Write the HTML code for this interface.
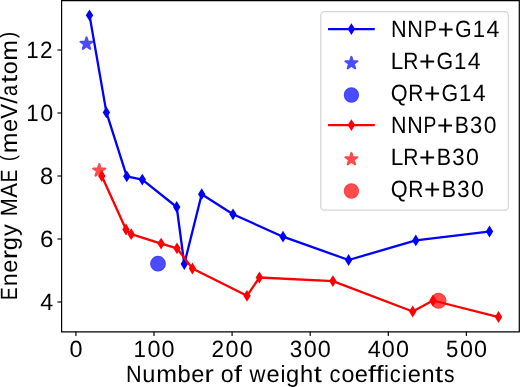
<!DOCTYPE html>
<html><head><meta charset="utf-8"><title>Energy MAE vs number of weight coefficients</title><style>
html,body{margin:0;padding:0;background:#fff;width:520px;height:387px;overflow:hidden;}
svg{display:block;will-change:transform;}
text{font-family:"Liberation Sans",sans-serif;font-size:23.5px;fill:#000;text-rendering:geometricPrecision;}
</style></head><body>
<svg width="520" height="387" viewBox="0 0 520 387">
<rect width="520" height="387" fill="#fff"/>
<g opacity="0.7"><polygon points="86.50,37.40 87.91,41.75 92.49,41.75 88.79,44.44 90.20,48.80 86.50,46.11 82.80,48.80 84.21,44.44 80.51,41.75 85.09,41.75" fill="#0000ff" stroke="#0000ff" stroke-width="2.08" stroke-linejoin="round"/></g>
<g opacity="0.7"><circle cx="158" cy="263.7" r="6.8" fill="#0000ff" stroke="#0000ff" stroke-width="2.08"/></g><circle cx="158" cy="263.7" r="7.20" fill="none" stroke="#0000ff" stroke-opacity="0.12" stroke-width="1.2"/>
<g opacity="0.7"><polygon points="99.25,164.10 100.69,168.52 105.34,168.52 101.57,171.26 103.01,175.68 99.25,172.94 95.49,175.68 96.93,171.26 93.16,168.52 97.81,168.52" fill="#ff0000" stroke="#ff0000" stroke-width="2.08" stroke-linejoin="round"/></g>
<g opacity="0.7"><circle cx="438.5" cy="300.8" r="6.9" fill="#ff0000" stroke="#ff0000" stroke-width="2.08"/></g><circle cx="438.5" cy="300.8" r="7.30" fill="none" stroke="#ff0000" stroke-opacity="0.12" stroke-width="1.2"/>
<polyline points="89.50,15.30 106.40,112.40 126.80,176.30 142.30,179.60 176.70,207.00 184.30,264.00 201.70,194.20 233.00,214.30 283.00,236.70 348.60,260.00 415.80,240.40 489.50,231.50" fill="none" stroke="#0000ff" stroke-width="2.3" stroke-linejoin="round" stroke-linecap="square"/>
<path d="M89.50 9.40L93.20 15.30L89.50 21.20L85.80 15.30Z" fill="#0000ff"/>
<path d="M106.40 106.50L110.10 112.40L106.40 118.30L102.70 112.40Z" fill="#0000ff"/>
<path d="M126.80 170.40L130.50 176.30L126.80 182.20L123.10 176.30Z" fill="#0000ff"/>
<path d="M142.30 173.70L146.00 179.60L142.30 185.50L138.60 179.60Z" fill="#0000ff"/>
<path d="M176.70 201.10L180.40 207.00L176.70 212.90L173.00 207.00Z" fill="#0000ff"/>
<path d="M184.30 258.10L188.00 264.00L184.30 269.90L180.60 264.00Z" fill="#0000ff"/>
<path d="M201.70 188.30L205.40 194.20L201.70 200.10L198.00 194.20Z" fill="#0000ff"/>
<path d="M233.00 208.40L236.70 214.30L233.00 220.20L229.30 214.30Z" fill="#0000ff"/>
<path d="M283.00 230.80L286.70 236.70L283.00 242.60L279.30 236.70Z" fill="#0000ff"/>
<path d="M348.60 254.10L352.30 260.00L348.60 265.90L344.90 260.00Z" fill="#0000ff"/>
<path d="M415.80 234.50L419.50 240.40L415.80 246.30L412.10 240.40Z" fill="#0000ff"/>
<path d="M489.50 225.60L493.20 231.50L489.50 237.40L485.80 231.50Z" fill="#0000ff"/>
<polyline points="101.80,176.00 126.00,229.50 131.20,234.20 161.10,243.60 177.00,248.30 192.40,268.50 247.00,295.80 259.40,277.50 332.90,281.10 412.70,311.50 433.00,300.50 498.50,317.00" fill="none" stroke="#ff0000" stroke-width="2.3" stroke-linejoin="round" stroke-linecap="square"/>
<path d="M101.80 170.10L105.50 176.00L101.80 181.90L98.10 176.00Z" fill="#ff0000"/>
<path d="M126.00 223.60L129.70 229.50L126.00 235.40L122.30 229.50Z" fill="#ff0000"/>
<path d="M131.20 228.30L134.90 234.20L131.20 240.10L127.50 234.20Z" fill="#ff0000"/>
<path d="M161.10 237.70L164.80 243.60L161.10 249.50L157.40 243.60Z" fill="#ff0000"/>
<path d="M177.00 242.40L180.70 248.30L177.00 254.20L173.30 248.30Z" fill="#ff0000"/>
<path d="M192.40 262.60L196.10 268.50L192.40 274.40L188.70 268.50Z" fill="#ff0000"/>
<path d="M247.00 289.90L250.70 295.80L247.00 301.70L243.30 295.80Z" fill="#ff0000"/>
<path d="M259.40 271.60L263.10 277.50L259.40 283.40L255.70 277.50Z" fill="#ff0000"/>
<path d="M332.90 275.20L336.60 281.10L332.90 287.00L329.20 281.10Z" fill="#ff0000"/>
<path d="M412.70 305.60L416.40 311.50L412.70 317.40L409.00 311.50Z" fill="#ff0000"/>
<path d="M433.00 294.60L436.70 300.50L433.00 306.40L429.30 300.50Z" fill="#ff0000"/>
<path d="M498.50 311.10L502.20 317.00L498.50 322.90L494.80 317.00Z" fill="#ff0000"/>
<path d="M61.6 0.55H519.3V331.8H61.6Z" fill="none" stroke="#000" stroke-width="1.2"/>
<line x1="75.90" y1="331.8" x2="75.90" y2="336.00" stroke="#000" stroke-width="1.15"/>
<line x1="154.00" y1="331.8" x2="154.00" y2="336.00" stroke="#000" stroke-width="1.15"/>
<line x1="232.10" y1="331.8" x2="232.10" y2="336.00" stroke="#000" stroke-width="1.15"/>
<line x1="310.20" y1="331.8" x2="310.20" y2="336.00" stroke="#000" stroke-width="1.15"/>
<line x1="388.30" y1="331.8" x2="388.30" y2="336.00" stroke="#000" stroke-width="1.15"/>
<line x1="466.40" y1="331.8" x2="466.40" y2="336.00" stroke="#000" stroke-width="1.15"/>
<line x1="61.6" y1="302.00" x2="57.40" y2="302.00" stroke="#000" stroke-width="1.15"/>
<line x1="61.6" y1="239.00" x2="57.40" y2="239.00" stroke="#000" stroke-width="1.15"/>
<line x1="61.6" y1="176.00" x2="57.40" y2="176.00" stroke="#000" stroke-width="1.15"/>
<line x1="61.6" y1="113.00" x2="57.40" y2="113.00" stroke="#000" stroke-width="1.15"/>
<line x1="61.6" y1="50.00" x2="57.40" y2="50.00" stroke="#000" stroke-width="1.15"/>
<text><tspan x="69.39" y="356.50" textLength="13.01" lengthAdjust="spacingAndGlyphs">0</tspan></text>
<text><tspan x="133.55" y="356.50" textLength="12.43" lengthAdjust="spacingAndGlyphs">1</tspan><tspan x="147.49" y="356.50" textLength="13.01" lengthAdjust="spacingAndGlyphs">0</tspan><tspan x="161.61" y="356.50" textLength="13.01" lengthAdjust="spacingAndGlyphs">0</tspan></text>
<text><tspan x="211.41" y="356.50" textLength="12.55" lengthAdjust="spacingAndGlyphs">2</tspan><tspan x="225.59" y="356.50" textLength="13.01" lengthAdjust="spacingAndGlyphs">0</tspan><tspan x="239.71" y="356.50" textLength="13.01" lengthAdjust="spacingAndGlyphs">0</tspan></text>
<text><tspan x="289.85" y="356.50" textLength="12.50" lengthAdjust="spacingAndGlyphs">3</tspan><tspan x="303.69" y="356.50" textLength="13.01" lengthAdjust="spacingAndGlyphs">0</tspan><tspan x="317.81" y="356.50" textLength="13.01" lengthAdjust="spacingAndGlyphs">0</tspan></text>
<text><tspan x="367.66" y="356.50" textLength="13.02" lengthAdjust="spacingAndGlyphs">4</tspan><tspan x="381.79" y="356.50" textLength="13.01" lengthAdjust="spacingAndGlyphs">0</tspan><tspan x="395.91" y="356.50" textLength="13.01" lengthAdjust="spacingAndGlyphs">0</tspan></text>
<text><tspan x="446.04" y="356.50" textLength="12.28" lengthAdjust="spacingAndGlyphs">5</tspan><tspan x="459.89" y="356.50" textLength="13.01" lengthAdjust="spacingAndGlyphs">0</tspan><tspan x="474.01" y="356.50" textLength="13.01" lengthAdjust="spacingAndGlyphs">0</tspan></text>
<text><tspan x="40.17" y="310.10" textLength="13.02" lengthAdjust="spacingAndGlyphs">4</tspan></text>
<text><tspan x="39.95" y="247.10" textLength="13.47" lengthAdjust="spacingAndGlyphs">6</tspan></text>
<text><tspan x="40.10" y="184.10" textLength="13.16" lengthAdjust="spacingAndGlyphs">8</tspan></text>
<text><tspan x="26.24" y="121.10" textLength="12.43" lengthAdjust="spacingAndGlyphs">1</tspan><tspan x="40.17" y="121.10" textLength="13.01" lengthAdjust="spacingAndGlyphs">0</tspan></text>
<text><tspan x="26.24" y="58.10" textLength="12.43" lengthAdjust="spacingAndGlyphs">1</tspan><tspan x="40.12" y="58.10" textLength="12.55" lengthAdjust="spacingAndGlyphs">2</tspan></text>
<text><tspan x="126.03" y="382.20" textLength="15.60" lengthAdjust="spacingAndGlyphs">N</tspan><tspan x="142.34" y="382.20" textLength="13.11" lengthAdjust="spacingAndGlyphs">u</tspan><tspan x="156.20" y="382.20" textLength="20.75" lengthAdjust="spacingAndGlyphs">m</tspan><tspan x="177.63" y="382.20" textLength="13.23" lengthAdjust="spacingAndGlyphs">b</tspan><tspan x="191.26" y="382.20" textLength="13.14" lengthAdjust="spacingAndGlyphs">e</tspan><tspan x="204.63" y="382.20" textLength="9.33" lengthAdjust="spacingAndGlyphs">r</tspan> <tspan x="220.68" y="382.20" textLength="12.93" lengthAdjust="spacingAndGlyphs">o</tspan><tspan x="233.92" y="382.20" textLength="7.98" lengthAdjust="spacingAndGlyphs">f</tspan> <tspan x="249.43" y="382.20" textLength="15.96" lengthAdjust="spacingAndGlyphs">w</tspan><tspan x="266.57" y="382.20" textLength="13.14" lengthAdjust="spacingAndGlyphs">e</tspan><tspan x="280.38" y="382.20" textLength="4.97" lengthAdjust="spacingAndGlyphs">i</tspan><tspan x="286.10" y="382.20" textLength="13.22" lengthAdjust="spacingAndGlyphs">g</tspan><tspan x="300.11" y="382.20" textLength="13.20" lengthAdjust="spacingAndGlyphs">h</tspan><tspan x="313.78" y="382.20" textLength="8.12" lengthAdjust="spacingAndGlyphs">t</tspan> <tspan x="329.43" y="382.20" textLength="10.97" lengthAdjust="spacingAndGlyphs">c</tspan><tspan x="341.41" y="382.20" textLength="12.93" lengthAdjust="spacingAndGlyphs">o</tspan><tspan x="354.76" y="382.20" textLength="13.14" lengthAdjust="spacingAndGlyphs">e</tspan><tspan x="368.11" y="382.20" textLength="7.98" lengthAdjust="spacingAndGlyphs">f</tspan><tspan x="375.81" y="382.20" textLength="7.98" lengthAdjust="spacingAndGlyphs">f</tspan><tspan x="383.98" y="382.20" textLength="4.97" lengthAdjust="spacingAndGlyphs">i</tspan><tspan x="389.76" y="382.20" textLength="10.97" lengthAdjust="spacingAndGlyphs">c</tspan><tspan x="402.08" y="382.20" textLength="4.97" lengthAdjust="spacingAndGlyphs">i</tspan><tspan x="407.79" y="382.20" textLength="13.14" lengthAdjust="spacingAndGlyphs">e</tspan><tspan x="421.46" y="382.20" textLength="13.11" lengthAdjust="spacingAndGlyphs">n</tspan><tspan x="435.05" y="382.20" textLength="8.12" lengthAdjust="spacingAndGlyphs">t</tspan><tspan x="444.08" y="382.20" textLength="10.48" lengthAdjust="spacingAndGlyphs">s</tspan></text>
<g transform="translate(16.9,387) rotate(-90)"><text><tspan x="87.05" y="0.00" textLength="12.64" lengthAdjust="spacingAndGlyphs">E</tspan><tspan x="100.69" y="0.00" textLength="13.11" lengthAdjust="spacingAndGlyphs">n</tspan><tspan x="114.34" y="0.00" textLength="13.14" lengthAdjust="spacingAndGlyphs">e</tspan><tspan x="127.71" y="0.00" textLength="9.33" lengthAdjust="spacingAndGlyphs">r</tspan><tspan x="136.79" y="0.00" textLength="13.22" lengthAdjust="spacingAndGlyphs">g</tspan><tspan x="151.06" y="0.00" textLength="11.74" lengthAdjust="spacingAndGlyphs">y</tspan> <tspan x="170.72" y="0.00" textLength="18.17" lengthAdjust="spacingAndGlyphs">M</tspan><tspan x="189.36" y="0.00" textLength="14.70" lengthAdjust="spacingAndGlyphs">A</tspan><tspan x="204.78" y="0.00" textLength="12.64" lengthAdjust="spacingAndGlyphs">E</tspan> <tspan x="225.69" y="-1.47" font-size="21.22" textLength="6.16" lengthAdjust="spacingAndGlyphs">(</tspan><tspan x="233.83" y="0.00" textLength="20.76" lengthAdjust="spacingAndGlyphs">m</tspan><tspan x="255.00" y="0.00" textLength="13.14" lengthAdjust="spacingAndGlyphs">e</tspan><tspan x="268.33" y="0.00" textLength="14.80" lengthAdjust="spacingAndGlyphs">V</tspan><tspan x="283.22" y="0.00" textLength="7.37" lengthAdjust="spacingAndGlyphs">/</tspan><tspan x="291.06" y="0.00" textLength="10.94" lengthAdjust="spacingAndGlyphs">a</tspan><tspan x="304.13" y="0.00" textLength="8.12" lengthAdjust="spacingAndGlyphs">t</tspan><tspan x="312.79" y="0.00" textLength="12.93" lengthAdjust="spacingAndGlyphs">o</tspan><tspan x="326.27" y="0.00" textLength="20.76" lengthAdjust="spacingAndGlyphs">m</tspan><tspan x="348.89" y="-1.47" font-size="21.22" textLength="6.16" lengthAdjust="spacingAndGlyphs">)</tspan></text></g>
<rect x="320.8" y="11.6" width="187.60" height="198.60" rx="3.6" ry="3.6" fill="#fff" fill-opacity="0.8" stroke="#d6d6d6" stroke-width="1.3"/>
<line x1="329.20" y1="29.10" x2="373.60" y2="29.10" stroke="#0000ff" stroke-width="2.3" stroke-linecap="square"/>
<path d="M351.40 23.20L355.10 29.10L351.40 35.00L347.70 29.10Z" fill="#0000ff"/>
<text><tspan x="390.90" y="36.80" textLength="15.64" lengthAdjust="spacingAndGlyphs">N</tspan><tspan x="407.31" y="36.80" textLength="15.64" lengthAdjust="spacingAndGlyphs">N</tspan><tspan x="423.90" y="36.80" textLength="12.94" lengthAdjust="spacingAndGlyphs">P</tspan><tspan x="437.50" y="39.30" font-size="28.45" textLength="16.50" lengthAdjust="spacingAndGlyphs">+</tspan><tspan x="455.09" y="36.80" textLength="16.64" lengthAdjust="spacingAndGlyphs">G</tspan><tspan x="472.65" y="36.80" textLength="12.28" lengthAdjust="spacingAndGlyphs">1</tspan><tspan x="486.42" y="36.80" textLength="12.86" lengthAdjust="spacingAndGlyphs">4</tspan></text>
<g opacity="0.7"><polygon points="351.40,56.90 352.81,61.25 357.39,61.25 353.69,63.94 355.10,68.30 351.40,65.61 347.70,68.30 349.11,63.94 345.41,61.25 349.99,61.25" fill="#0000ff" stroke="#0000ff" stroke-width="2.08" stroke-linejoin="round"/></g>
<text><tspan x="390.83" y="68.80" textLength="12.54" lengthAdjust="spacingAndGlyphs">L</tspan><tspan x="403.17" y="68.80" textLength="15.14" lengthAdjust="spacingAndGlyphs">R</tspan><tspan x="418.92" y="71.30" font-size="28.45" textLength="16.50" lengthAdjust="spacingAndGlyphs">+</tspan><tspan x="436.50" y="68.80" textLength="16.63" lengthAdjust="spacingAndGlyphs">G</tspan><tspan x="454.06" y="68.80" textLength="12.28" lengthAdjust="spacingAndGlyphs">1</tspan><tspan x="467.82" y="68.80" textLength="12.85" lengthAdjust="spacingAndGlyphs">4</tspan></text>
<g opacity="0.7"><circle cx="351.4" cy="95.0" r="6.6" fill="#0000ff" stroke="#0000ff" stroke-width="2.08"/></g><circle cx="351.4" cy="95.0" r="7.00" fill="none" stroke="#0000ff" stroke-opacity="0.12" stroke-width="1.2"/>
<text><tspan x="390.72" y="100.80" textLength="16.85" lengthAdjust="spacingAndGlyphs">Q</tspan><tspan x="408.20" y="100.80" textLength="15.14" lengthAdjust="spacingAndGlyphs">R</tspan><tspan x="423.94" y="103.30" font-size="28.45" textLength="16.49" lengthAdjust="spacingAndGlyphs">+</tspan><tspan x="441.51" y="100.80" textLength="16.63" lengthAdjust="spacingAndGlyphs">G</tspan><tspan x="459.07" y="100.80" textLength="12.27" lengthAdjust="spacingAndGlyphs">1</tspan><tspan x="472.83" y="100.80" textLength="12.85" lengthAdjust="spacingAndGlyphs">4</tspan></text>
<line x1="329.20" y1="125.10" x2="373.60" y2="125.10" stroke="#ff0000" stroke-width="2.3" stroke-linecap="square"/>
<path d="M351.40 119.20L355.10 125.10L351.40 131.00L347.70 125.10Z" fill="#ff0000"/>
<text><tspan x="390.92" y="132.80" textLength="15.50" lengthAdjust="spacingAndGlyphs">N</tspan><tspan x="407.18" y="132.80" textLength="15.50" lengthAdjust="spacingAndGlyphs">N</tspan><tspan x="423.62" y="132.80" textLength="12.82" lengthAdjust="spacingAndGlyphs">P</tspan><tspan x="437.10" y="135.30" font-size="28.45" textLength="16.35" lengthAdjust="spacingAndGlyphs">+</tspan><tspan x="454.78" y="132.80" textLength="14.08" lengthAdjust="spacingAndGlyphs">B</tspan><tspan x="470.11" y="132.80" textLength="12.24" lengthAdjust="spacingAndGlyphs">3</tspan><tspan x="483.65" y="132.80" textLength="12.74" lengthAdjust="spacingAndGlyphs">0</tspan></text>
<g opacity="0.7"><polygon points="351.40,152.90 352.81,157.25 357.39,157.25 353.69,159.94 355.10,164.30 351.40,161.61 347.70,164.30 349.11,159.94 345.41,157.25 349.99,157.25" fill="#ff0000" stroke="#ff0000" stroke-width="2.08" stroke-linejoin="round"/></g>
<text><tspan x="390.82" y="164.80" textLength="12.57" lengthAdjust="spacingAndGlyphs">L</tspan><tspan x="403.19" y="164.80" textLength="15.17" lengthAdjust="spacingAndGlyphs">R</tspan><tspan x="418.97" y="167.30" font-size="28.45" textLength="16.53" lengthAdjust="spacingAndGlyphs">+</tspan><tspan x="436.84" y="164.80" textLength="14.24" lengthAdjust="spacingAndGlyphs">B</tspan><tspan x="452.33" y="164.80" textLength="12.37" lengthAdjust="spacingAndGlyphs">3</tspan><tspan x="466.03" y="164.80" textLength="12.88" lengthAdjust="spacingAndGlyphs">0</tspan></text>
<g opacity="0.7"><circle cx="351.4" cy="191.0" r="6.6" fill="#ff0000" stroke="#ff0000" stroke-width="2.08"/></g><circle cx="351.4" cy="191.0" r="7.00" fill="none" stroke="#ff0000" stroke-opacity="0.12" stroke-width="1.2"/>
<text><tspan x="390.72" y="196.80" textLength="16.88" lengthAdjust="spacingAndGlyphs">Q</tspan><tspan x="408.23" y="196.80" textLength="15.17" lengthAdjust="spacingAndGlyphs">R</tspan><tspan x="424.00" y="199.30" font-size="28.45" textLength="16.52" lengthAdjust="spacingAndGlyphs">+</tspan><tspan x="441.86" y="196.80" textLength="14.23" lengthAdjust="spacingAndGlyphs">B</tspan><tspan x="457.34" y="196.80" textLength="12.36" lengthAdjust="spacingAndGlyphs">3</tspan><tspan x="471.03" y="196.80" textLength="12.87" lengthAdjust="spacingAndGlyphs">0</tspan></text>
</svg></body></html>
